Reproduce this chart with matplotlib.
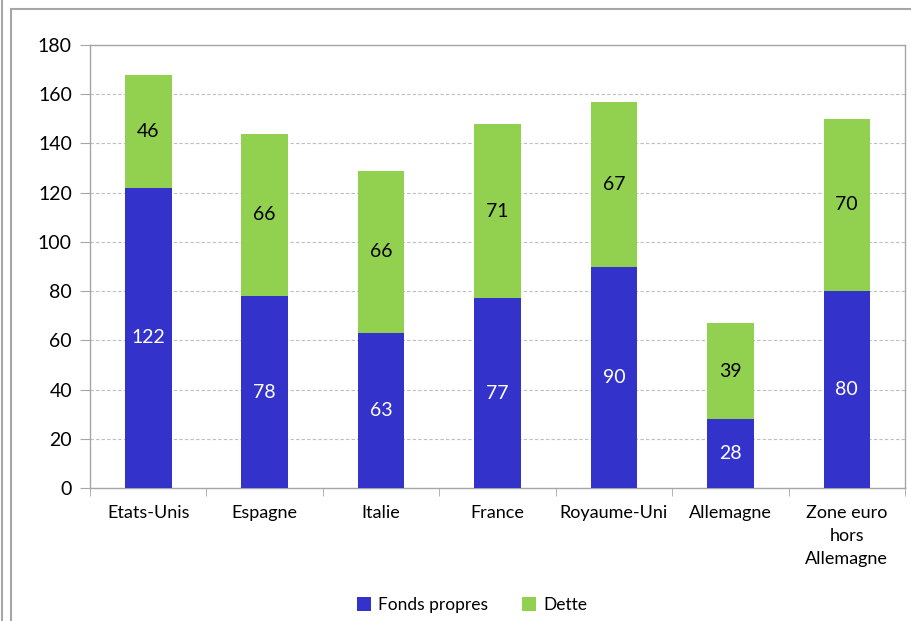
import matplotlib
matplotlib.use("Agg")
import matplotlib.pyplot as plt
from matplotlib.lines import Line2D
import numpy as np

plt.rcParams['font.family'] = ['Lato', 'DejaVu Sans']

categories = ["Etats-Unis", "Espagne", "Italie", "France", "Royaume-Uni",
              "Allemagne", "Zone euro\nhors\nAllemagne"]
fonds_propres = [122, 78, 63, 77, 90, 28, 80]
dette = [46, 66, 66, 71, 67, 39, 70]
y_ticks = [0, 20, 40, 60, 80, 100, 120, 140, 160, 180]

blue = "#3333CC"
green = "#92D050"
grid_col = "#BFBFBF"
spine_col = "#A6A6A6"

W, H = 911, 621
fig = plt.figure(figsize=(W / 100, H / 100), dpi=100)
ax = fig.add_axes([90 / W, 1 - 488 / H, (905 - 90) / W, (488 - 45) / H])

x = np.arange(len(categories))
width = 0.4
b1 = ax.bar(x, fonds_propres, width, color=blue, label="Fonds propres", zorder=3)
b2 = ax.bar(x, dette, width, bottom=fonds_propres, color=green, label="Dette", zorder=3)

for xi, fp, d in zip(x, fonds_propres, dette):
    ax.text(xi, fp / 2, f"{fp}", ha="center", va="center", color="white",
            fontsize=14, zorder=4)
    ax.text(xi, fp + d / 2, f"{d}", ha="center", va="center", color="black",
            fontsize=14, zorder=4)

ax.set_xlim(-0.5, len(categories) - 0.5)
ax.set_ylim(0, 180)
ax.set_yticks(y_ticks)
ax.tick_params(axis="y", labelsize=14, length=7, color=spine_col, pad=6)
ax.yaxis.grid(True, linestyle=(0, (3, 2)), color=grid_col, linewidth=0.8, zorder=0)

# category labels centred, tick marks at category boundaries
ax.set_xticks(x)
ax.set_xticklabels(categories, fontsize=13, linespacing=1.55)
ax.tick_params(axis="x", length=0, pad=12)
ax.set_xticks(np.arange(len(categories) + 1) - 0.5, minor=True)
ax.tick_params(axis="x", which="minor", length=6, color=spine_col)

for s in ax.spines.values():
    s.set_color(spine_col)
    s.set_linewidth(1.0)

leg = fig.legend(handles=[b1, b2], labels=["Fonds propres", "Dette"],
                 loc="center", bbox_to_anchor=(472 / W, 1 - 605 / H),
                 ncol=2, frameon=False, fontsize=12.5, handlelength=0.8,
                 handleheight=0.8, handletextpad=0.4, columnspacing=2.0)

# chart frame lines
fig.add_artist(Line2D([2 / W, 2 / W], [0, 1], color="#A6A6A6", lw=1.5,
                      transform=fig.transFigure))
fig.add_artist(Line2D([11 / W, 11 / W], [0, 1 - 9 / H], color="#A6A6A6", lw=1.5,
                      transform=fig.transFigure))
fig.add_artist(Line2D([11 / W, 1], [1 - 9 / H, 1 - 9 / H], color="#A6A6A6", lw=1.5,
                      transform=fig.transFigure))

fig.savefig("out.png", dpi=100)
